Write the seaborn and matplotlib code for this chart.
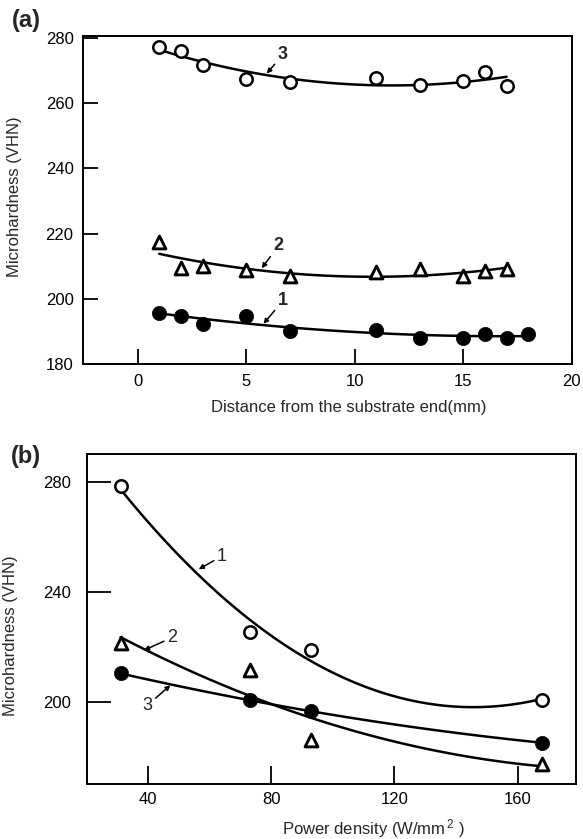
import matplotlib
matplotlib.use("Agg")
import matplotlib.pyplot as plt
import seaborn as sns
import numpy as np
import pandas as pd

# ---------------- data ----------------
# Panel (a): microhardness vs distance from the substrate end
dist_a = [1, 2, 3, 5, 7, 11, 13, 15, 16, 17]
dist_a1 = [1, 2, 3, 5, 7, 11, 13, 15, 16, 17, 18]
hv_a3 = [277.1, 275.8, 271.6, 267.4, 266.4, 267.7, 265.5, 266.6, 269.6, 265.1]   # open circles
hv_a2 = [217.5, 209.6, 210.1, 208.8, 207.1, 208.2, 209.1, 206.9, 208.6, 209.1]   # triangles
hv_a1 = [195.7, 194.9, 192.4, 194.9, 190.1, 190.6, 188.1, 188.0, 189.2, 188.0, 189.3]  # filled

# Panel (b): microhardness vs power density
power_b = [31, 73, 93, 168]
hv_b1 = [278.2, 225.1, 218.6, 200.6]   # open circles
hv_b2 = [221.3, 211.4, 186.0, 177.2]   # triangles
hv_b3 = [210.2, 200.5, 196.4, 185.0]   # filled circles

xticks_a = [0, 5, 10, 15, 20]
yticks_a = [180, 200, 220, 240, 260, 280]
xticks_b = [40, 80, 120, 160]
yticks_b = [200, 240, 280]

# ---------------- style ----------------
sns.set_style("ticks")
plt.rcParams['font.family'] = ['Liberation Sans', 'DejaVu Sans']
plt.rcParams['mathtext.default'] = 'regular'

fig = plt.figure(figsize=(5.83, 8.39), dpi=100)
W, H = 583, 839

def axes_px(l, t, r, b):
    return fig.add_axes([l / W, 1 - b / H, (r - l) / W, (b - t) / H])

ax_a = axes_px(83.3, 36.0, 571.7, 364.3)
ax_b = axes_px(86.7, 454.0, 576.0, 784.0)

line_kws = dict(color='black', lw=1.8)

def draw(ax, x, y, kind, order=2):
    df = pd.DataFrame({'x': x, 'y': y})
    sns.regplot(data=df, x='x', y='y', order=order, ci=None, scatter=False,
                truncate=True, line_kws=line_kws, ax=ax)
    if kind == 'open':
        sns.scatterplot(data=df, x='x', y='y', marker='o', s=80, facecolor='white',
                        edgecolor='black', linewidth=1.8, ax=ax, zorder=5)
    elif kind == 'filled':
        sns.scatterplot(data=df, x='x', y='y', marker='o', s=105, color='black',
                        edgecolor='black', linewidth=0.5, ax=ax, zorder=5)
    else:
        sns.scatterplot(data=df, x='x', y='y', marker='^', s=85, facecolor='white',
                        edgecolor='black', linewidth=2.1, ax=ax, zorder=5)

# ---- panel (a)
draw(ax_a, dist_a, hv_a3, 'open')
draw(ax_a, dist_a, hv_a2, 'tri')
draw(ax_a, dist_a1, hv_a1, 'filled')
ax_a.set_xlim(-2.5, 20)
ax_a.set_ylim(180, 280.5)
ax_a.set_xticks(xticks_a)
ax_a.set_yticks(yticks_a)

arrow = dict(arrowstyle='-|>', color='black', lw=1.1, mutation_scale=7,
             shrinkA=0, shrinkB=0)
ax_a.annotate('3', xy=(5.95, 269.0), xytext=(6.7, 274.8), fontsize=13, fontweight='bold',
              ha='center', va='center', arrowprops=arrow)
ax_a.annotate('2', xy=(5.72, 209.4), xytext=(6.5, 216.4), fontsize=13, fontweight='bold',
              ha='center', va='center', arrowprops=arrow)
ax_a.annotate('1', xy=(5.80, 192.4), xytext=(6.7, 199.5), fontsize=13, fontweight='bold',
              ha='center', va='center', arrowprops=arrow)

ax_a.set_xlabel('Distance from the substrate end(mm)', fontsize=12)
ax_a.set_ylabel('Microhardness (VHN)', fontsize=12)
ax_a.xaxis.set_label_coords(0.544, -0.108)
ax_a.yaxis.set_label_coords(-0.126, 0.51)
ax_a.tick_params(axis='x', direction='in', length=11, width=1.3, pad=7, labelsize=12)
ax_a.tick_params(axis='y', direction='in', length=11, width=1.3, pad=7, labelsize=12)

# ---- panel (b)
draw(ax_b, power_b, hv_b1, 'open')
draw(ax_b, power_b, hv_b2, 'tri')
draw(ax_b, power_b, hv_b3, 'filled')
ax_b.set_xlim(20, 179)
ax_b.set_ylim(170, 290)
ax_b.set_xticks(xticks_b)
ax_b.set_yticks(yticks_b)

ax_b.annotate('1', xy=(56.4, 248.1), xytext=(64.0, 252.9), fontsize=13,
              ha='center', va='center', arrowprops=arrow)
ax_b.annotate('2', xy=(38.6, 218.6), xytext=(47.8, 223.3), fontsize=13,
              ha='center', va='center', arrowprops=arrow)
ax_b.annotate('3', xy=(47.2, 205.9), xytext=(39.7, 198.6), fontsize=13,
              ha='center', va='center', arrowprops=arrow)

ax_b.set_xlabel('Power density (W/mm$^{\\,2}$ )', fontsize=12)
ax_b.set_ylabel('Microhardness (VHN)', fontsize=12)
ax_b.xaxis.set_label_coords(0.585, -0.10)
ax_b.yaxis.set_label_coords(-0.140, 0.45)
ax_b.tick_params(axis='x', direction='in', length=13, width=1.3, pad=6, labelsize=12)
ax_b.tick_params(axis='y', direction='in', length=17, width=1.3, pad=11, labelsize=12)

for ax in (ax_a, ax_b):
    for sp in ax.spines.values():
        sp.set_visible(True)
        sp.set_linewidth(1.4)
        sp.set_color('black')
    ax.tick_params(colors='black')

fig.text(26 / W, 1 - 20 / H, '(a)', fontsize=17, fontweight='bold', ha='center', va='center')
fig.text(26 / W, 1 - 456 / H, '(b)', fontsize=17, fontweight='bold', ha='center', va='center')

fig.savefig('out.png', dpi=100, facecolor='white')
